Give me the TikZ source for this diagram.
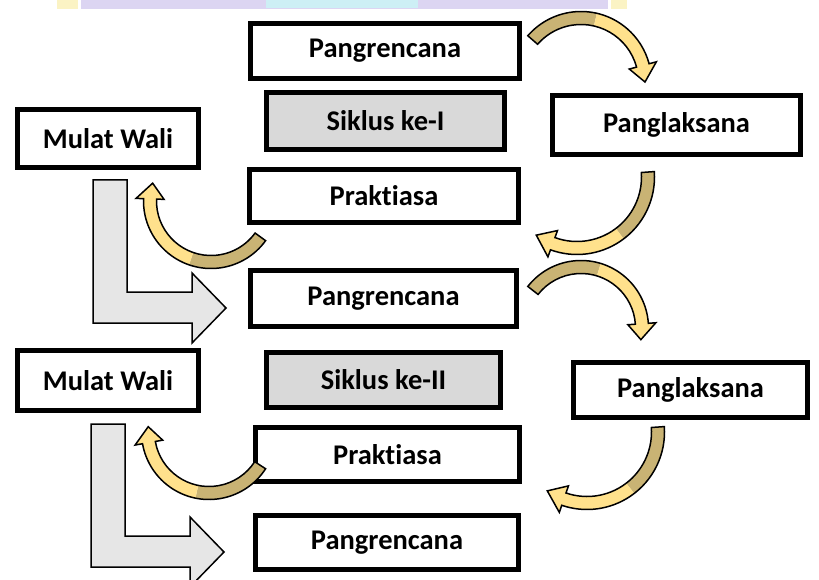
\documentclass[tikz,border=0pt]{standalone}
\usepackage{fontspec}
\setmainfont{Carlito}[Ligatures=NoCommon,RawFeature={-liga;-calt;-dlig}]
\usetikzlibrary{calc}
\definecolor{tanc}{HTML}{C9B374}
\definecolor{yelc}{HTML}{FFE18C}
\definecolor{boxgray}{HTML}{D9D9D9}
\definecolor{lgray}{HTML}{E6E6E6}
\definecolor{wmlav}{HTML}{DCD5F2}
\definecolor{wmcyan}{HTML}{CDEFF5}
\definecolor{wmyel}{HTML}{FBF3C4}
\newcommand\carrow[5]{%
  \pgfmathsetmacro\cAb{#5-15}%
  \pgfmathsetmacro\cAm{(#4+\cAb)/2}%
  \pgfmathsetmacro\cRo{#3+6.5}%
  \pgfmathsetmacro\cRi{#3-6.5}%
  \pgfmathsetmacro\cRho{#3+14}%
  \pgfmathsetmacro\cRhi{#3-14}%
  \coordinate (cc) at (#1,#2);
  \fill[tanc] ($(cc)+(#4:\cRo)$) arc[start angle=#4,end angle=\cAm,radius=\cRo]
     -- ($(cc)+(\cAm:\cRi)$) arc[start angle=\cAm,end angle=#4,radius=\cRi] -- cycle;
  \fill[yelc] ($(cc)+(\cAm:\cRo)$) arc[start angle=\cAm,end angle=\cAb,radius=\cRo]
     -- ($(cc)+(\cAb:\cRho)$) -- ($(cc)+(#5:#3)$) -- ($(cc)+(\cAb:\cRhi)$)
     -- ($(cc)+(\cAb:\cRi)$) arc[start angle=\cAb,end angle=\cAm,radius=\cRi] -- cycle;
  \draw[cline] ($(cc)+(#4:\cRo)$) arc[start angle=#4,end angle=\cAb,radius=\cRo]
     -- ($(cc)+(\cAb:\cRho)$) -- ($(cc)+(#5:#3)$) -- ($(cc)+(\cAb:\cRhi)$)
     -- ($(cc)+(\cAb:\cRi)$) arc[start angle=\cAb,end angle=#4,radius=\cRi] -- cycle;
}
\begin{document}
\begin{tikzpicture}[x=1pt,y=-1pt,
  box/.style={draw, line width=5pt, fill=white, inner sep=0pt,
     font=\fontsize{28.5}{30}\selectfont\bfseries},
  graybox/.style={box, fill=boxgray},
  larrow/.style={fill=lgray, draw, line width=1.5pt, line join=miter},
  cline/.style={line width=1.5pt, line join=miter}]
\useasboundingbox (0,0) rectangle (819,580);
\fill[white] (0,0) rectangle (819,580);
% watermark remnant at the top edge
\fill[wmyel] (57,0) rectangle (78,9);
\fill[wmyel] (611,0) rectangle (627,9);
\fill[wmlav] (81,0) rectangle (608,9);
\fill[wmcyan] (266,0) rectangle (418,8);
% boxes
\node[box, minimum width=269, minimum height=55] (p1) at (385,51) {Pangrencana};
\node[graybox, minimum width=238, minimum height=57] (s1) at (385.5,121) {Siklus ke-I};
\node[box, minimum width=181, minimum height=58] (m1) at (108,138.5) {Mulat Wali};
\node[box, minimum width=248, minimum height=59] (l1) at (676.5,125) {Panglaksana};
\node[box, minimum width=269, minimum height=53] (r1) at (384,196) {Prakt\kern0pt iasa};
\node[box, minimum width=266, minimum height=56] (p2) at (383.5,298.5) {Pangrencana};
\node[graybox, minimum width=234, minimum height=55] (s2) at (383.5,380) {Siklus ke-II};
\node[box, minimum width=181, minimum height=60] (m2) at (108,380.5) {Mulat Wali};
\node[box, minimum width=234, minimum height=55] (l2) at (690.5,390) {Panglaksana};
\node[box, minimum width=264, minimum height=54] (r2) at (387.5,454.5) {Prakt\kern0pt iasa};
\node[box, minimum width=263, minimum height=54] (p3) at (387,542.5) {Pangrencana};
% L-shaped block arrows
\draw[larrow] (93,180) -- (127,180) -- (127,292) -- (192,292) -- (192,273) -- (226,308)
   -- (192,343) -- (192,323) -- (93,323) -- cycle;
\draw[larrow, shift={(-2,244)}] (93,180) -- (127,180) -- (127,292) -- (192,292) -- (192,273) -- (226,308)
   -- (192,343) -- (192,323) -- (93,323) -- cycle;
% curved arrows
\carrow{581}{82}{64}{-139}{0}
\carrow{577}{177}{71}{-4}{125}
\carrow{211}{201}{61}{36}{197}
\carrow{581}{328}{61}{-142}{11}
\carrow{587}{432}{71}{-4}{124}
\carrow{209}{432}{61}{33}{185}
\end{tikzpicture}
\end{document}
